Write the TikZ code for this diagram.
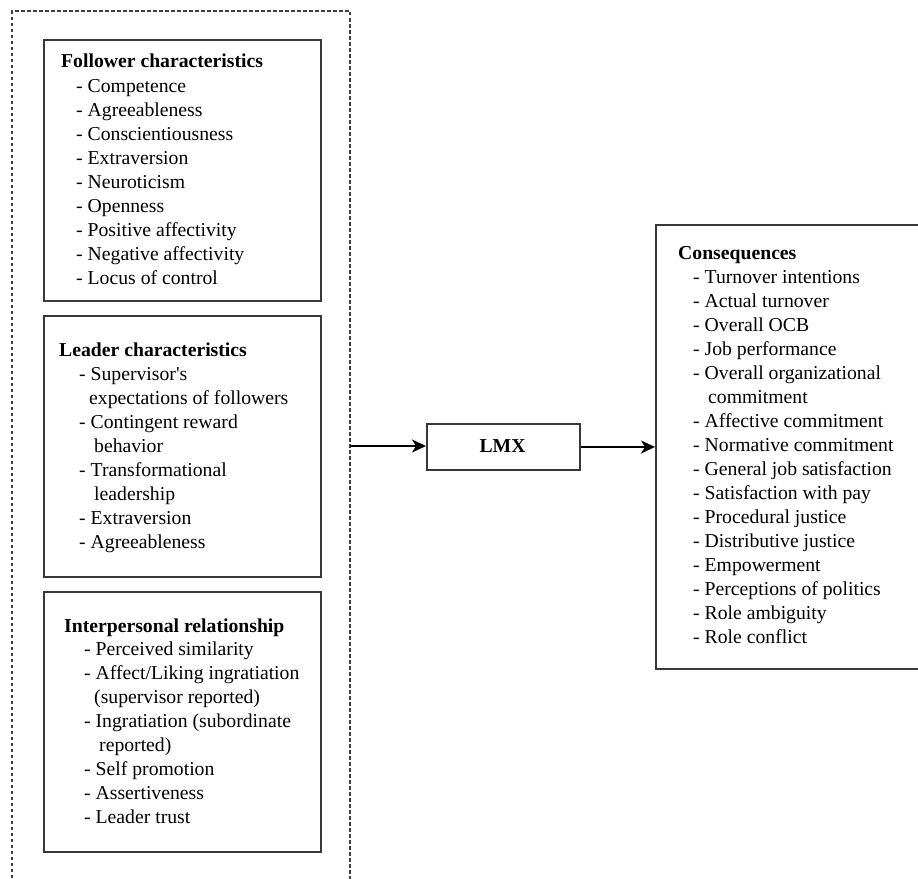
\documentclass[tikz,border=0pt]{standalone}
\usepackage{fontspec}
\setmainfont{Liberation Serif}
\usetikzlibrary{arrows.meta}
\begin{document}
\begin{tikzpicture}[x=1pt,y=-1pt,
  txt/.style={anchor=base west, inner sep=0pt, font=\fontsize{19.7}{24}\selectfont},
  head/.style={txt, font=\fontsize{19.7}{24}\selectfont\bfseries},
  frame/.style={draw=black!78, line width=1.9pt},
  group/.style={draw=black!75, line width=1.8pt, dash pattern=on 3.5pt off 2.5pt},
  arr/.style={draw=black, line width=1.5pt, -{Stealth[length=14pt,width=13pt,inset=4pt]}}]
\useasboundingbox (0,0) rectangle (918,878);
\fill[white] (0,0) rectangle (918,878);

% dashed grouping frame, open at the bottom
\draw[group] (12,890) -- (12,11) -- (350,11) -- (350,890);
\coordinate (grpE) at (350,446);

% follower characteristics
\node[frame, minimum width=277pt, minimum height=261pt, anchor=north west] (fbox) at (43,39) {};
\node[head] (fh) at (61,67.5) {Follower characteristics};
\foreach \t [count=\i] in {Competence, Agreeableness, Conscientiousness, Extraversion, Neuroticism, Openness, Positive affectivity, Negative affectivity, Locus of control}
  \node[txt] (f\i) at (76,{92+24*(\i-1)}) {- \t};

% leader characteristics
\node[frame, minimum width=277pt, minimum height=261pt, anchor=north west] (lbox) at (43,315) {};
\node[head] (lh) at (59,356) {Leader characteristics};
\node[txt] (l1) at (79,380) {- Supervisor\textquotesingle s};
\node[txt] (l1b) at (89,404) {expectations of followers};
\node[txt] (l2) at (79,428) {- Contingent reward};
\node[txt] (l2b) at (94,452) {behavior};
\node[txt] (l3) at (79,476) {- Transformational};
\node[txt] (l3b) at (94,500) {leadership};
\node[txt] (l4) at (79,524) {- Extraversion};
\node[txt] (l5) at (79,548) {- Agreeableness};

% interpersonal relationship
\node[frame, minimum width=277pt, minimum height=260pt, anchor=north west] (ibox) at (43,591) {};
\node[head] (ih) at (64,632) {Interpersonal relationship};
\node[txt] (i1) at (84,655) {- Perceived similarity};
\node[txt] (i2) at (84,679) {- Affect/Liking ingratiation};
\node[txt] (i2b) at (94,703) {(supervisor reported)};
\node[txt] (i3) at (84,727) {- Ingratiation (subordinate};
\node[txt] (i3b) at (99,751) {reported)};
\node[txt] (i4) at (84,775) {- Self promotion};
\node[txt] (i5) at (84,799) {- Assertiveness};
\node[txt] (i6) at (84,823) {- Leader trust};

% LMX
\node[frame, minimum width=153pt, minimum height=46pt, anchor=north west] (lmx) at (426,423) {};
\node[inner sep=0pt, anchor=base, font=\fontsize{19.7}{24}\selectfont\bfseries] (lmxt) at (502.5,452) {LMX};

% consequences
\node[frame, minimum width=266pt, minimum height=444pt, anchor=north west] (cons) at (655,224) {};
\node[head] (ch) at (678,259) {Consequences};
\node[txt] (c1) at (693,283) {- Turnover intentions};
\node[txt] (c2) at (693,307) {- Actual turnover};
\node[txt] (c3) at (693,331) {- Overall OCB};
\node[txt] (c4) at (693,355) {- Job performance};
\node[txt] (c5) at (693,379) {- Overall organizational};
\node[txt] (c5b) at (708,403) {commitment};
\foreach \t [count=\i from 6] in {Affective commitment, Normative commitment, General job satisfaction, Satisfaction with pay, Procedural justice, Distributive justice, Empowerment, Perceptions of politics, Role ambiguity, Role conflict}
  \node[txt] (c\i) at (693,{427+24*(\i-6)}) {- \t};

% connectors
\draw[arr] (grpE) -- (grpE -| lmx.west);
\draw[arr] (lmx.east) -- (cons.west |- lmx.east);
\end{tikzpicture}
\end{document}
